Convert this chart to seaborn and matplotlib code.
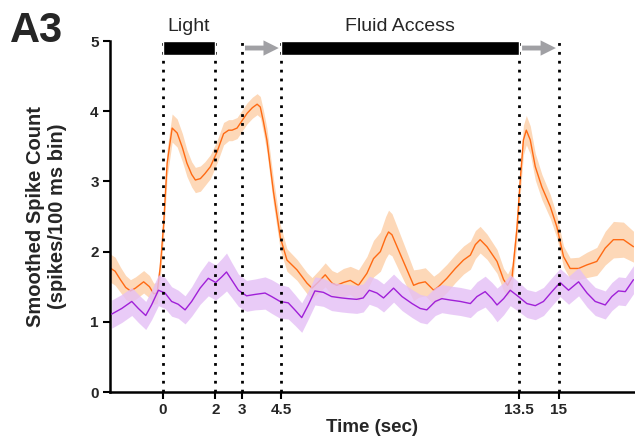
import numpy as np
import pandas as pd
import seaborn as sns
import matplotlib
matplotlib.use('Agg')
import matplotlib.pyplot as plt

# values (time in sec, smoothed spike count)
t_orange = [-2.0, -1.8, -1.6, -1.4, -1.22, -1.03, -0.72, -0.5, -0.34, -0.21, -0.09, 0.04, 0.17, 0.36, 0.55,
            0.75, 0.92, 1.1, 1.24, 1.43, 1.6, 1.81, 2.06, 2.31, 2.5, 2.63, 2.82, 3.0, 3.2, 3.4, 3.58, 3.7,
            3.82, 3.95, 4.2, 4.46, 4.71, 5.09, 5.47, 5.66, 5.91, 6.16, 6.42, 6.6, 6.85, 7.11, 7.42, 7.74,
            7.99, 8.25, 8.45, 8.56, 8.69, 8.94, 9.26, 9.51, 9.7, 9.95, 10.27, 10.45, 10.77, 11.09, 11.4,
            11.66, 11.85, 12.03, 12.29, 12.67, 12.92, 13.07, 13.24, 13.42, 13.55, 13.67, 13.78, 13.93,
            14.12, 14.37, 14.69, 14.94, 15.19, 15.44, 15.76, 16.07, 16.45, 16.77, 17.08, 17.46, 17.84]
y_orange = [1.77, 1.72, 1.60, 1.49, 1.44, 1.48, 1.57, 1.50, 1.40, 1.41, 1.78, 2.40, 3.26, 3.76, 3.69,
            3.48, 3.26, 3.10, 3.02, 3.04, 3.11, 3.21, 3.42, 3.68, 3.73, 3.73, 3.76, 3.86, 3.97, 4.05, 4.10, 4.06,
            3.85, 3.59, 2.85, 2.20, 1.88, 1.74, 1.55, 1.48, 1.57, 1.67, 1.55, 1.52, 1.56, 1.59, 1.52, 1.69,
            1.90, 2.00, 2.20, 2.28, 2.24, 2.02, 1.74, 1.52, 1.55, 1.57, 1.45, 1.50, 1.62, 1.76, 1.88,
            1.95, 2.10, 2.17, 2.07, 1.86, 1.60, 1.52, 1.64, 2.31, 3.02, 3.59, 3.73, 3.59,
            3.21, 2.92, 2.64, 2.35, 1.93, 1.76, 1.76, 1.81, 1.86, 2.05, 2.17, 2.17, 2.07]
e_orange = [0.20, 0.20, 0.18, 0.17, 0.16, 0.16, 0.16, 0.16, 0.15, 0.15, 0.16, 0.18, 0.2, 0.2, 0.2,
            0.2, 0.19, 0.18, 0.18, 0.18, 0.17, 0.17, 0.16, 0.16, 0.15, 0.15, 0.15, 0.15, 0.15, 0.15, 0.15, 0.15,
            0.16, 0.17, 0.18, 0.18, 0.16, 0.15, 0.15, 0.15, 0.16, 0.17, 0.18, 0.18, 0.2, 0.2, 0.22, 0.24,
            0.26, 0.28, 0.3, 0.31, 0.3, 0.28, 0.25, 0.22, 0.2, 0.2, 0.2, 0.2, 0.2, 0.2, 0.2,
            0.2, 0.2, 0.19, 0.18, 0.17, 0.16, 0.16, 0.17, 0.19, 0.2, 0.21, 0.21, 0.2,
            0.19, 0.18, 0.17, 0.16, 0.15, 0.15, 0.16, 0.18, 0.2, 0.24, 0.26, 0.25, 0.22]

t_purple = [-1.93, -1.55, -1.17, -0.92, -0.64, -0.42, -0.16, 0.09, 0.34, 0.59, 0.85, 1.1, 1.42, 1.73,
            2.01, 2.24, 2.42, 2.61, 2.87, 3.18, 3.5, 3.88, 4.13, 4.45, 4.76, 5.01, 5.27, 5.52, 5.77, 6.09,
            6.4, 6.78, 7.03, 7.35, 7.6, 7.83, 8.12, 8.37, 8.75, 9.07, 9.45, 9.76, 10.01, 10.33, 10.58,
            10.9, 11.28, 11.66, 11.91, 12.22, 12.48, 12.67, 12.92, 13.17, 13.48, 13.8, 14.12, 14.43,
            14.75, 15.06, 15.38, 15.76, 16.08, 16.39, 16.77, 17.02, 17.27, 17.53, 17.84]
y_purple = [1.11, 1.19, 1.29, 1.19, 1.09, 1.24, 1.45, 1.41, 1.29, 1.25, 1.17, 1.29, 1.48, 1.62,
            1.56, 1.64, 1.71, 1.60, 1.45, 1.37, 1.39, 1.41, 1.36, 1.29, 1.27, 1.17, 1.06, 1.24, 1.44, 1.42,
            1.36, 1.34, 1.33, 1.32, 1.34, 1.45, 1.41, 1.34, 1.48, 1.36, 1.26, 1.19, 1.17, 1.29, 1.33,
            1.31, 1.29, 1.26, 1.36, 1.43, 1.33, 1.24, 1.33, 1.45, 1.36, 1.26, 1.23, 1.29,
            1.43, 1.56, 1.45, 1.57, 1.41, 1.29, 1.24, 1.36, 1.44, 1.43, 1.60]
e_purple = [0.2, 0.2, 0.2, 0.2, 0.2, 0.21, 0.22, 0.22, 0.21, 0.2, 0.2, 0.21, 0.23, 0.25,
            0.25, 0.26, 0.27, 0.25, 0.23, 0.22, 0.22, 0.23, 0.24, 0.24, 0.23, 0.22, 0.21, 0.2, 0.2, 0.2,
            0.2, 0.2, 0.2, 0.2, 0.2, 0.2, 0.2, 0.2, 0.2, 0.2, 0.2, 0.2, 0.2, 0.2, 0.2,
            0.2, 0.2, 0.2, 0.21, 0.22, 0.23, 0.24, 0.23, 0.22, 0.21, 0.2, 0.2, 0.2,
            0.2, 0.2, 0.2, 0.2, 0.2, 0.2, 0.2, 0.2, 0.2, 0.2, 0.2]

event_times = [0, 2, 3, 4.5, 13.5, 15]
event_labels = ['0', '2', '3', '4.5', '13.5', '15']

sns.set_style("ticks")
plt.rcParams['font.family'] = ['Liberation Sans', 'DejaVu Sans']

orange = pd.DataFrame({'t': t_orange, 'y': y_orange, 'e': e_orange})
purple = pd.DataFrame({'t': t_purple, 'y': y_purple, 'e': e_purple})

fig = plt.figure(figsize=(6.35, 4.42), dpi=100)
ax = fig.add_axes([0.173, 0.1131, 0.825, 0.7941])

ax.fill_between(orange.t, orange.y - orange.e, orange.y + orange.e, color='#FDD8B8', lw=0, zorder=1)
sns.lineplot(data=orange, x='t', y='y', color='#FF6A13', lw=1.0, ax=ax, zorder=2)
ax.fill_between(purple.t, purple.y - purple.e, purple.y + purple.e, color='#E4BFF5', alpha=0.8, lw=0, zorder=3)
sns.lineplot(data=purple, x='t', y='y', color='#A020D8', lw=1.0, ax=ax, zorder=4)

# dotted event lines
ax.vlines(event_times, 0, 5, colors='black', linestyles=(0, (1, 2.2)), lw=2, zorder=5, clip_on=False)

# event bars and arrows
ax.barh(4.9, 2, left=0, height=0.2, color='black', zorder=6, clip_on=False)
ax.barh(4.9, 9, left=4.5, height=0.2, color='black', zorder=6, clip_on=False)
for a, b in [(3, 4.5), (13.5, 15)]:
    ax.annotate('', xy=(b - 0.1, 4.9), xytext=(a + 0.12, 4.9),
                arrowprops=dict(facecolor='#A0A0A4', edgecolor='none', width=3.5, headwidth=11, headlength=11),
                annotation_clip=False)
ax.text(1, 5.21, 'Light', ha='center', va='center', fontsize=14)
ax.text(9, 5.21, 'Fluid Access', ha='center', va='center', fontsize=14)

ax.set_xlim(-2, 17.85)
ax.set_ylim(0, 5)
ax.set_xticks(event_times)
ax.set_xticklabels(event_labels)
ax.set_yticks([0, 1, 2, 3, 4, 5])
ax.tick_params(width=1.5, length=5, labelsize=11, color='black', pad=3)
for lab in ax.get_xticklabels() + ax.get_yticklabels():
    lab.set_fontweight('bold')
for s in ['left', 'bottom']:
    ax.spines[s].set_linewidth(1.8)
    ax.spines[s].set_color('black')
sns.despine(ax=ax)

ax.set_xlabel('Time (sec)', fontsize=13.5, fontweight='bold', labelpad=1)
ax.set_ylabel('Smoothed Spike Count\n(spikes/100 ms bin)', fontsize=14.5, fontweight='bold', labelpad=17)

fig.text(0.015, 0.975, 'A3', fontsize=30, fontweight='bold', va='top')

fig.savefig('out.png', dpi=100)
